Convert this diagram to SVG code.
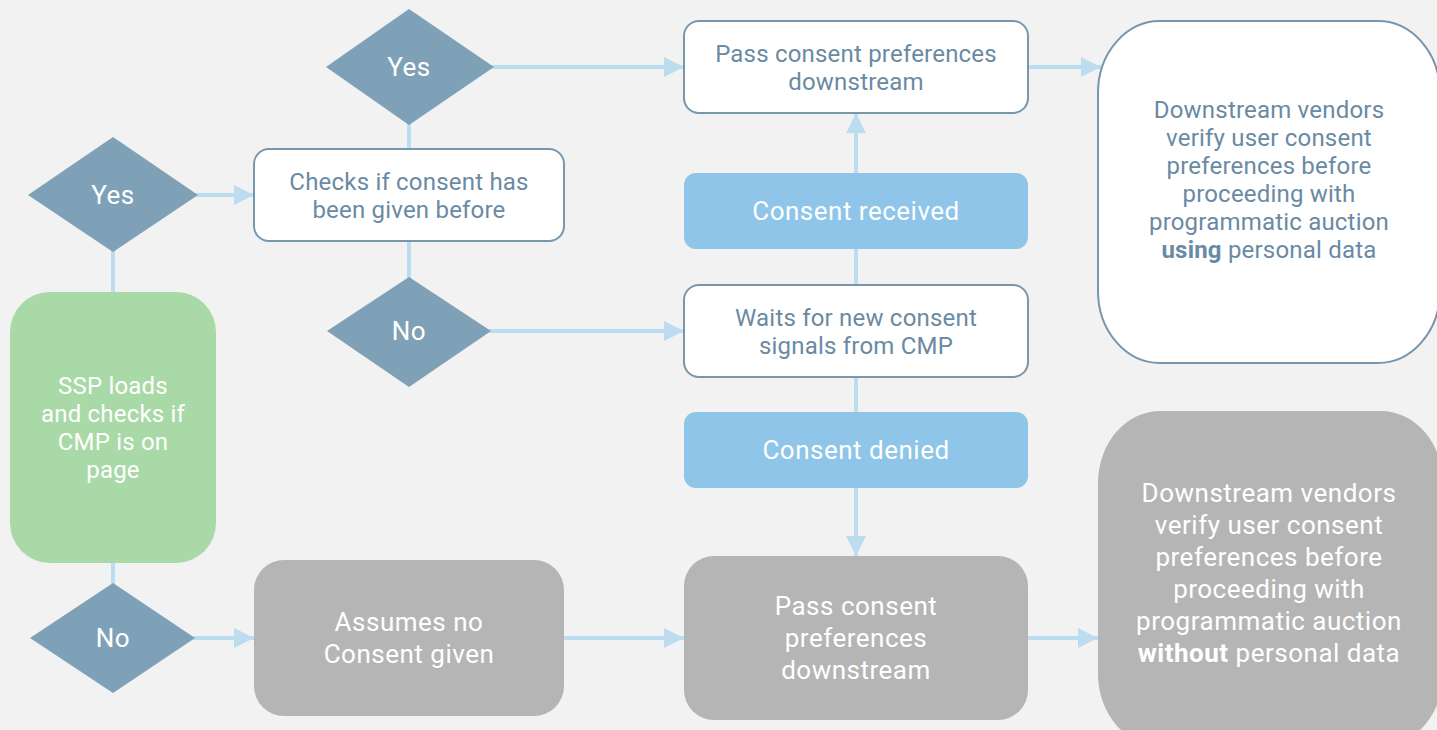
<svg xmlns="http://www.w3.org/2000/svg" width="1437" height="730" viewBox="0 0 1437 730">
<defs>
<style>
.bg{fill:#f2f2f2}
.dia{fill:#7fa1b7}
.wbox{fill:#ffffff;stroke:#7896ac;stroke-width:2}
.bbox{fill:#8ec5e8}
.gbox{fill:#b5b5b5}
.green{fill:#a9d9a6}
.conn{stroke:#bcdcf0;stroke-width:4;fill:none}
text{font-family:Roboto,"Liberation Sans",sans-serif;text-anchor:middle}
.tw{fill:#ffffff}
.td{fill:#6a8aa3}
.f22{font-size:24px;letter-spacing:0.2px}
.f24{font-size:26px;letter-spacing:0.5px}
.b{font-weight:bold}
</style>
<marker id="ah" markerWidth="20" markerHeight="20" refX="20" refY="10" orient="auto" markerUnits="userSpaceOnUse" viewBox="0 0 20 20">
<path d="M0,0 L20,10 L0,20 Z" fill="#bcdcf0"/>
</marker>
</defs>
<rect class="bg" x="0" y="0" width="1437" height="730"/>

<g id="connectors">
<line class="conn" x1="113" y1="292" x2="113" y2="250"/>
<line class="conn" x1="196" y1="195" x2="254" y2="195" marker-end="url(#ah)"/>
<line class="conn" x1="409" y1="149" x2="409" y2="123"/>
<line class="conn" x1="492" y1="67" x2="684" y2="67" marker-end="url(#ah)"/>
<line class="conn" x1="409" y1="241" x2="409" y2="279"/>
<line class="conn" x1="489" y1="331" x2="684" y2="331" marker-end="url(#ah)"/>
<line class="conn" x1="856" y1="285" x2="856" y2="249"/>
<line class="conn" x1="856" y1="173" x2="856" y2="113" marker-end="url(#ah)"/>
<line class="conn" x1="1028" y1="67" x2="1101" y2="67" marker-end="url(#ah)"/>
<line class="conn" x1="856" y1="377" x2="856" y2="412"/>
<line class="conn" x1="856" y1="488" x2="856" y2="556" marker-end="url(#ah)"/>
<line class="conn" x1="113" y1="563" x2="113" y2="585"/>
<line class="conn" x1="193" y1="638" x2="254" y2="638" marker-end="url(#ah)"/>
<line class="conn" x1="564" y1="638" x2="684" y2="638" marker-end="url(#ah)"/>
<line class="conn" x1="1028" y1="638" x2="1098" y2="638" marker-end="url(#ah)"/>
</g>

<g id="dia-yes-top">
<polygon class="dia" points="409,9 494,67 409,125 326,67"/>
<text class="tw f24" x="409" y="76">Yes</text>
</g>
<g id="dia-yes-left">
<polygon class="dia" points="113,137 198,195 113,252 28,195"/>
<text class="tw f24" x="113" y="204">Yes</text>
</g>
<g id="dia-no-mid">
<polygon class="dia" points="409,277 491,331 409,387 327,331"/>
<text class="tw f24" x="409" y="340">No</text>
</g>
<g id="dia-no-bottom">
<polygon class="dia" points="113,583 195,638 113,693 30,638"/>
<text class="tw f24" x="113" y="647">No</text>
</g>

<g id="ssp">
<rect class="green" x="10" y="292" width="206" height="271" rx="40" ry="40"/>
<text class="tw f22" x="113" y="394">SSP loads</text>
<text class="tw f22" x="113" y="422">and checks if</text>
<text class="tw f22" x="113" y="450">CMP is on</text>
<text class="tw f22" x="113" y="478">page</text>
</g>

<g id="checks">
<rect class="wbox" x="254" y="149" width="310" height="92" rx="15" ry="15"/>
<text class="td f22" x="409" y="190">Checks if consent has</text>
<text class="td f22" x="409" y="218">been given before</text>
</g>

<g id="pass-top">
<rect class="wbox" x="684" y="21" width="344" height="92" rx="15" ry="15"/>
<text class="td f22" x="856" y="62">Pass consent preferences</text>
<text class="td f22" x="856" y="90">downstream</text>
</g>

<g id="consent-received">
<rect class="bbox" x="684" y="173" width="344" height="76" rx="12" ry="12"/>
<text class="tw f24" x="856" y="220">Consent received</text>
</g>

<g id="waits">
<rect class="wbox" x="684" y="285" width="344" height="92" rx="15" ry="15"/>
<text class="td f22" x="856" y="326">Waits for new consent</text>
<text class="td f22" x="856" y="354">signals from CMP</text>
</g>

<g id="consent-denied">
<rect class="bbox" x="684" y="412" width="344" height="76" rx="12" ry="12"/>
<text class="tw f24" x="856" y="459">Consent denied</text>
</g>

<g id="assumes">
<rect class="gbox" x="254" y="560" width="310" height="156" rx="30" ry="30"/>
<text class="tw f24" x="409" y="631">Assumes no</text>
<text class="tw f24" x="409" y="663">Consent given</text>
</g>

<g id="pass-bottom">
<rect class="gbox" x="684" y="556" width="344" height="164" rx="30" ry="30"/>
<text class="tw f24" x="856" y="615">Pass consent</text>
<text class="tw f24" x="856" y="647">preferences</text>
<text class="tw f24" x="856" y="679">downstream</text>
</g>

<g id="vendors-using">
<rect class="wbox" x="1098" y="21" width="342" height="342" rx="62" ry="72"/>
<text class="td f22" x="1269" y="118">Downstream vendors</text>
<text class="td f22" x="1269" y="146">verify user consent</text>
<text class="td f22" x="1269" y="174">preferences before</text>
<text class="td f22" x="1269" y="202">proceeding with</text>
<text class="td f22" x="1269" y="230">programmatic auction</text>
<text class="td f22" x="1269" y="258"><tspan class="b">using</tspan> personal data</text>
</g>

<g id="vendors-without">
<rect class="gbox" x="1098" y="411" width="345" height="335" rx="62" ry="72"/>
<text class="tw f24" x="1269" y="502">Downstream vendors</text>
<text class="tw f24" x="1269" y="534">verify user consent</text>
<text class="tw f24" x="1269" y="566">preferences before</text>
<text class="tw f24" x="1269" y="598">proceeding with</text>
<text class="tw f24" x="1269" y="630">programmatic auction</text>
<text class="tw f24" x="1269" y="662"><tspan class="b">without</tspan> personal data</text>
</g>
</svg>
